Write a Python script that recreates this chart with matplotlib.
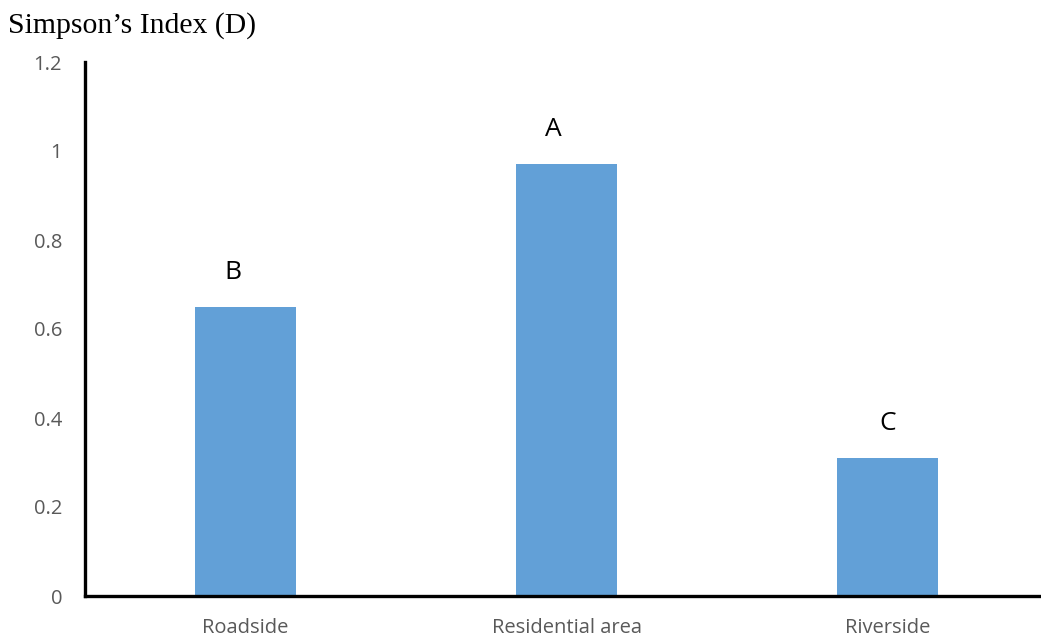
import matplotlib
matplotlib.use("Agg")
import matplotlib.pyplot as plt

categories = ["Roadside", "Residential area", "Riverside"]
values = [0.65, 0.97, 0.31]
letters = ["B", "A", "C"]
yticks = [0, 0.2, 0.4, 0.6, 0.8, 1.0, 1.2]
ytick_labels = ["0", "0.2", "0.4", "0.6", "0.8", "1", "1.2"]

W, H = 1041, 639
fig = plt.figure(figsize=(W / 100, H / 100), dpi=100)
fig.patch.set_facecolor("white")

left, right, bottom, top = 85, 1048, 596, 62
ax = fig.add_axes([left / W, (H - bottom) / H, (right - left) / W, (bottom - top) / H])
ax.set_facecolor("none")

x = list(range(len(categories)))
ax.bar(x, values, width=0.315, color="#62A0D7", zorder=2)

# letter labels (slightly left-shifted in the original for B and A)
letter_dx = [-13, -13, 0]
for xi, v, lab, dx in zip(x, values, letters, letter_dx):
    ax.annotate(lab, (xi, v + 0.078), xytext=(dx * 0.72, 0), textcoords="offset points",
                ha="center", va="center", fontsize=19, family="Open Sans", color="black")

ax.set_xlim(-0.5, 2.5)
ax.set_ylim(0, 1.2)
ax.set_yticks(yticks)
ax.set_yticklabels(ytick_labels, family="Open Sans", fontsize=14.5, color="#595959")
ax.set_xticks(x)
ax.set_xticklabels(categories, family="Open Sans", fontsize=14.5, color="#595959")
ax.tick_params(axis="both", length=0)
ax.tick_params(axis="y", pad=16.5)
ax.tick_params(axis="x", pad=16)

for s in ["top", "right"]:
    ax.spines[s].set_visible(False)
for s in ["left", "bottom"]:
    ax.spines[s].set_linewidth(2.4)
    ax.spines[s].set_color("black")
    ax.spines[s].set_zorder(3)

fig.text(8 / W, 1 - 33 / H, "Simpson\u2019s Index (D)", family="Liberation Serif",
         fontsize=21.4, ha="left", va="baseline", color="black")

fig.savefig("out.png", dpi=100)
